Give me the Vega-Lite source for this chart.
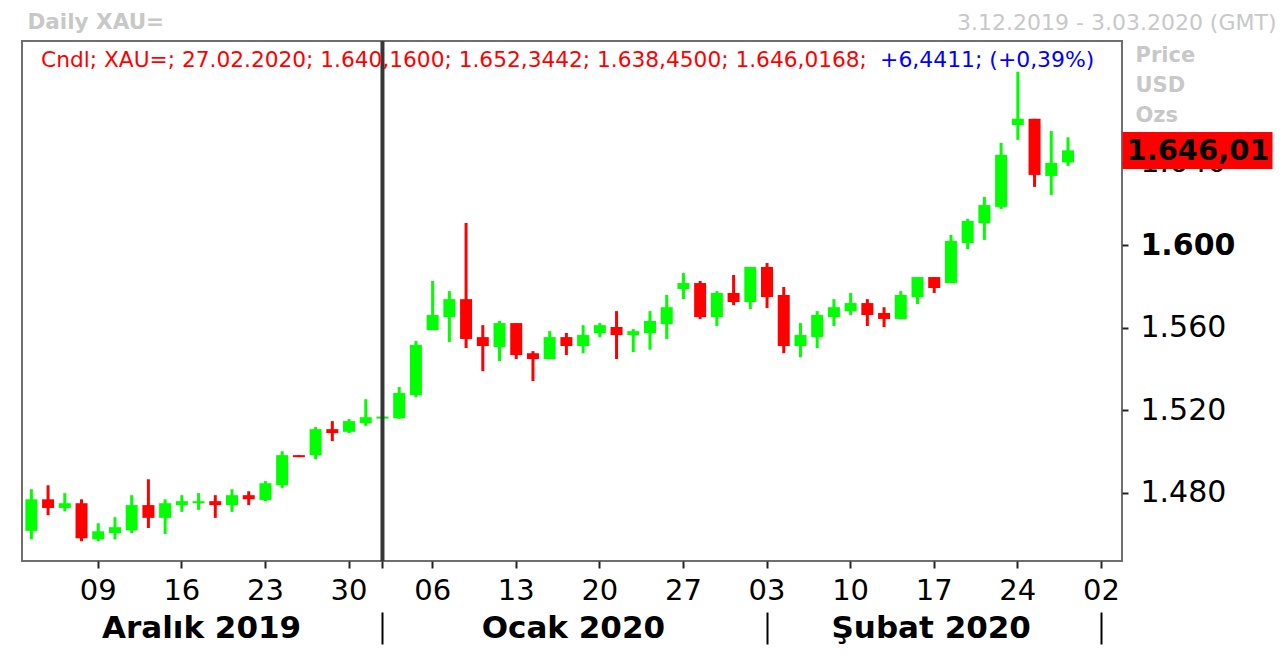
{
  "$schema": "https://vega.github.io/schema/vega-lite/v6.json",
  "width": 1100,
  "height": 520,
  "autosize": {"type": "none"},
  "padding": {"left": 22, "top": 41, "right": 160, "bottom": 96},
  "background": "#ffffff",
  "config": {
    "font": "DejaVu Sans",
    "view": {"stroke": "#6e6e6e", "strokeWidth": 2},
    "axis": {"labelFont": "DejaVu Sans", "titleFont": "DejaVu Sans", "grid": false, "domain": false, "labelLimit": 0, "titleLimit": 0}
  },
  "data": {"values": [
    {"d":"2019-12-03","o":1461.6,"h":1481.8,"l":1457.5,"c":1476.9},
    {"d":"2019-12-04","o":1476.9,"h":1483.7,"l":1469.2,"c":1472.7},
    {"d":"2019-12-05","o":1472.7,"h":1479.9,"l":1471.1,"c":1475.0},
    {"d":"2019-12-06","o":1475.0,"h":1476.9,"l":1456.6,"c":1458.0},
    {"d":"2019-12-09","o":1457.5,"h":1465.3,"l":1456.6,"c":1461.4},
    {"d":"2019-12-10","o":1460.5,"h":1468.2,"l":1457.5,"c":1463.4},
    {"d":"2019-12-11","o":1461.9,"h":1478.9,"l":1460.5,"c":1474.1},
    {"d":"2019-12-12","o":1474.1,"h":1486.6,"l":1463.0,"c":1467.9},
    {"d":"2019-12-13","o":1467.9,"h":1476.9,"l":1460.1,"c":1475.0},
    {"d":"2019-12-16","o":1474.1,"h":1478.9,"l":1470.8,"c":1476.0},
    {"d":"2019-12-17","o":1475.0,"h":1479.9,"l":1471.8,"c":1476.0},
    {"d":"2019-12-18","o":1476.0,"h":1478.9,"l":1467.9,"c":1474.1},
    {"d":"2019-12-19","o":1474.1,"h":1481.8,"l":1470.8,"c":1478.9},
    {"d":"2019-12-20","o":1478.9,"h":1480.8,"l":1474.1,"c":1476.9},
    {"d":"2019-12-23","o":1476.6,"h":1485.7,"l":1476.0,"c":1484.7},
    {"d":"2019-12-24","o":1483.7,"h":1500.2,"l":1482.4,"c":1498.3},
    {"d":"2019-12-25","o":1498.3,"h":1498.3,"l":1497.3,"c":1497.3},
    {"d":"2019-12-26","o":1498.3,"h":1511.9,"l":1496.3,"c":1510.9},
    {"d":"2019-12-27","o":1510.9,"h":1514.8,"l":1505.1,"c":1509.0},
    {"d":"2019-12-30","o":1509.6,"h":1515.8,"l":1509.0,"c":1514.8},
    {"d":"2019-12-31","o":1513.8,"h":1525.4,"l":1512.5,"c":1516.7},
    {"d":"2020-01-01","o":1516.0,"h":1517.0,"l":1516.0,"c":1517.0},
    {"d":"2020-01-02","o":1516.2,"h":1531.3,"l":1515.9,"c":1528.4},
    {"d":"2020-01-03","o":1527.4,"h":1553.6,"l":1526.4,"c":1551.7},
    {"d":"2020-01-06","o":1558.9,"h":1582.7,"l":1558.9,"c":1566.2},
    {"d":"2020-01-07","o":1565.2,"h":1577.8,"l":1553.1,"c":1573.9},
    {"d":"2020-01-08","o":1573.9,"h":1610.8,"l":1550.2,"c":1554.6},
    {"d":"2020-01-09","o":1555.5,"h":1561.3,"l":1539.0,"c":1551.2},
    {"d":"2020-01-10","o":1550.7,"h":1563.3,"l":1543.9,"c":1562.3},
    {"d":"2020-01-13","o":1562.3,"h":1562.3,"l":1544.9,"c":1546.8},
    {"d":"2020-01-14","o":1547.7,"h":1548.7,"l":1534.2,"c":1544.9},
    {"d":"2020-01-15","o":1544.9,"h":1558.4,"l":1544.9,"c":1555.5},
    {"d":"2020-01-16","o":1555.5,"h":1557.5,"l":1546.8,"c":1551.2},
    {"d":"2020-01-17","o":1551.2,"h":1561.3,"l":1547.7,"c":1556.5},
    {"d":"2020-01-20","o":1557.5,"h":1562.3,"l":1555.5,"c":1561.3},
    {"d":"2020-01-21","o":1560.4,"h":1568.1,"l":1544.9,"c":1556.5},
    {"d":"2020-01-22","o":1556.5,"h":1559.4,"l":1548.2,"c":1558.4},
    {"d":"2020-01-23","o":1557.5,"h":1568.1,"l":1549.4,"c":1563.3},
    {"d":"2020-01-24","o":1561.8,"h":1575.9,"l":1554.6,"c":1570.0},
    {"d":"2020-01-27","o":1578.8,"h":1586.6,"l":1573.9,"c":1581.7},
    {"d":"2020-01-28","o":1581.7,"h":1582.7,"l":1564.3,"c":1565.2},
    {"d":"2020-01-29","o":1565.2,"h":1577.8,"l":1560.9,"c":1576.9},
    {"d":"2020-01-30","o":1576.9,"h":1585.6,"l":1571.0,"c":1572.5},
    {"d":"2020-01-31","o":1572.5,"h":1589.5,"l":1569.1,"c":1589.5},
    {"d":"2020-02-03","o":1589.5,"h":1591.4,"l":1569.6,"c":1574.9},
    {"d":"2020-02-04","o":1575.9,"h":1579.8,"l":1547.7,"c":1551.2},
    {"d":"2020-02-05","o":1551.2,"h":1562.3,"l":1545.8,"c":1556.5},
    {"d":"2020-02-06","o":1555.5,"h":1568.1,"l":1550.2,"c":1566.2},
    {"d":"2020-02-07","o":1565.2,"h":1573.9,"l":1560.9,"c":1570.0},
    {"d":"2020-02-10","o":1568.1,"h":1576.9,"l":1566.2,"c":1572.0},
    {"d":"2020-02-11","o":1572.0,"h":1573.9,"l":1560.9,"c":1566.2},
    {"d":"2020-02-12","o":1567.2,"h":1570.0,"l":1560.4,"c":1564.3},
    {"d":"2020-02-13","o":1564.3,"h":1577.8,"l":1564.3,"c":1575.9},
    {"d":"2020-02-14","o":1574.9,"h":1584.6,"l":1571.5,"c":1584.6},
    {"d":"2020-02-17","o":1584.6,"h":1584.6,"l":1576.9,"c":1579.3},
    {"d":"2020-02-18","o":1581.7,"h":1605.0,"l":1581.7,"c":1602.1},
    {"d":"2020-02-19","o":1601.1,"h":1612.8,"l":1598.2,"c":1611.8},
    {"d":"2020-02-20","o":1610.8,"h":1623.4,"l":1602.6,"c":1619.5},
    {"d":"2020-02-21","o":1618.6,"h":1649.6,"l":1617.6,"c":1643.8},
    {"d":"2020-02-24","o":1658.3,"h":1684.1,"l":1651.1,"c":1661.3},
    {"d":"2020-02-25","o":1661.3,"h":1661.3,"l":1628.3,"c":1634.1},
    {"d":"2020-02-26","o":1633.6,"h":1655.4,"l":1624.4,"c":1639.9},
    {"d":"2020-02-27","o":1640.16,"h":1652.3442,"l":1638.45,"c":1646.0168}
  ]},
  "resolve": {"scale": {"x": "shared", "y": "shared"}, "axis": {"x": "independent", "y": "independent"}},
  "layer": [
    {
      "mark": {"type": "rule", "strokeWidth": 3},
      "encoding": {
        "x": {"field": "d", "type": "ordinal",
          "scale": {"type": "band", "range": [1, 1104.5], "paddingInner": 0, "paddingOuter": 0, "domain": ["2019-12-03","2019-12-04","2019-12-05","2019-12-06","2019-12-09","2019-12-10","2019-12-11","2019-12-12","2019-12-13","2019-12-16","2019-12-17","2019-12-18","2019-12-19","2019-12-20","2019-12-23","2019-12-24","2019-12-25","2019-12-26","2019-12-27","2019-12-30","2019-12-31","2020-01-01","2020-01-02","2020-01-03","2020-01-06","2020-01-07","2020-01-08","2020-01-09","2020-01-10","2020-01-13","2020-01-14","2020-01-15","2020-01-16","2020-01-17","2020-01-20","2020-01-21","2020-01-22","2020-01-23","2020-01-24","2020-01-27","2020-01-28","2020-01-29","2020-01-30","2020-01-31","2020-02-03","2020-02-04","2020-02-05","2020-02-06","2020-02-07","2020-02-10","2020-02-11","2020-02-12","2020-02-13","2020-02-14","2020-02-17","2020-02-18","2020-02-19","2020-02-20","2020-02-21","2020-02-24","2020-02-25","2020-02-26","2020-02-27","2020-02-28","2020-03-02","2020-03-03"]},
          "axis": {"orient": "bottom", "values": ["2019-12-09","2019-12-16","2019-12-23","2019-12-30","2020-01-01","2020-01-06","2020-01-13","2020-01-20","2020-01-27","2020-02-03","2020-02-10","2020-02-17","2020-02-24","2020-03-02"],
            "labelExpr": "datum.value == '2020-01-01' ? '' : substring(datum.value, 8, 10)",
            "labelAngle": 0, "labelFontSize": 29, "labelColor": "#000000", "labelBaseline": "middle", "labelPadding": 22,
            "tickSize": 7, "tickWidth": 2, "tickColor": "#222222", "domain": false, "grid": false, "title": null,
            "labelOverlap": false, "labelFlush": false, "labelBound": false}
        },
        "y": {"field": "l", "type": "quantitative",
          "scale": {"domain": [1447, 1699], "zero": false, "nice": false},
          "axis": {"orient": "right", "values": [1480, 1520, 1560, 1600, 1640],
            "labelExpr": "replace(format(datum.value, ','), ',', '.')",
            "labelFontSize": 30, "labelColor": "#000000",
            "labelFontWeight": {"condition": {"test": "datum.value == 1600", "value": "bold"}, "value": "normal"},
            "labelAlign": "left", "labelBaseline": "middle", "labelPadding": 12,
            "tickSize": 6, "tickWidth": 2, "tickColor": "#222222", "domain": false, "grid": false,
            "labelOverlap": false, "labelFlush": false, "labelBound": false,
            "title": ["Price", "USD", "Ozs"], "titleAngle": 0, "titleAlign": "left", "titleBaseline": "top",
            "titleX": 13, "titleY": 3, "titleFontSize": 21, "titleFontWeight": "bold", "titleColor": "#c8c8c8", "titleLineHeight": 30}
        },
        "y2": {"field": "h"},
        "color": {"condition": {"test": "datum.c >= datum.o", "value": "#00ff00"}, "value": "#ff0000"}
      }
    },
    {
      "mark": {"type": "bar", "size": 12},
      "encoding": {
        "x": {"field": "d", "type": "ordinal",
          "scale": {"type": "band", "range": [1, 1104.5], "paddingInner": 0, "paddingOuter": 0, "domain": ["2019-12-03","2019-12-04","2019-12-05","2019-12-06","2019-12-09","2019-12-10","2019-12-11","2019-12-12","2019-12-13","2019-12-16","2019-12-17","2019-12-18","2019-12-19","2019-12-20","2019-12-23","2019-12-24","2019-12-25","2019-12-26","2019-12-27","2019-12-30","2019-12-31","2020-01-01","2020-01-02","2020-01-03","2020-01-06","2020-01-07","2020-01-08","2020-01-09","2020-01-10","2020-01-13","2020-01-14","2020-01-15","2020-01-16","2020-01-17","2020-01-20","2020-01-21","2020-01-22","2020-01-23","2020-01-24","2020-01-27","2020-01-28","2020-01-29","2020-01-30","2020-01-31","2020-02-03","2020-02-04","2020-02-05","2020-02-06","2020-02-07","2020-02-10","2020-02-11","2020-02-12","2020-02-13","2020-02-14","2020-02-17","2020-02-18","2020-02-19","2020-02-20","2020-02-21","2020-02-24","2020-02-25","2020-02-26","2020-02-27","2020-02-28","2020-03-02","2020-03-03"]},
          "axis": {"orient": "bottom", "values": ["2019-12-17", "2020-01-16", "2020-02-17"],
            "labelExpr": "datum.value == '2019-12-17' ? 'Aralık 2019' : (datum.value == '2020-01-16' ? 'Ocak 2020' : 'Şubat 2020')",
            "ticks": false, "tickSize": 0, "domain": false, "grid": false, "title": null,
            "labelAngle": 0, "labelFontSize": 31, "labelFontWeight": "bold", "labelColor": "#000000",
            "labelBaseline": "middle", "labelPadding": 67, "labelLimit": 0,
            "labelOffset": {"condition": [{"test": "datum.value == '2020-01-16'", "value": 7}, {"test": "datum.value == '2020-02-17'", "value": -3}], "value": 3},
            "labelOverlap": false, "labelFlush": false, "labelBound": false}
        },
        "y": {"field": "o", "type": "quantitative",
          "scale": {"domain": [1447, 1699], "zero": false, "nice": false},
          "axis": {"orient": "right", "values": [1646.0168], "labelExpr": "'1.646,01'",
            "labelFontSize": 29, "labelFontWeight": "bold", "labelColor": "#000000",
            "labelAlign": "left", "labelBaseline": "middle",
            "tickSize": 150, "tickWidth": 37, "tickColor": "#ff0000", "labelPadding": -146,
            "domain": false, "grid": false, "title": null,
            "labelOverlap": false, "labelFlush": false, "labelBound": false}
        },
        "y2": {"field": "c"},
        "color": {"condition": {"test": "datum.c >= datum.o", "value": "#00ff00"}, "value": "#ff0000"}
      }
    },
    {
      "data": {"values": [{}]},
      "mark": {"type": "rule", "strokeWidth": 4, "color": "#363636"},
      "encoding": {
        "x": {"datum": "2020-01-01", "type": "ordinal",
          "scale": {"type": "band", "range": [1, 1104.5], "paddingInner": 0, "paddingOuter": 0, "domain": ["2019-12-03","2019-12-04","2019-12-05","2019-12-06","2019-12-09","2019-12-10","2019-12-11","2019-12-12","2019-12-13","2019-12-16","2019-12-17","2019-12-18","2019-12-19","2019-12-20","2019-12-23","2019-12-24","2019-12-25","2019-12-26","2019-12-27","2019-12-30","2019-12-31","2020-01-01","2020-01-02","2020-01-03","2020-01-06","2020-01-07","2020-01-08","2020-01-09","2020-01-10","2020-01-13","2020-01-14","2020-01-15","2020-01-16","2020-01-17","2020-01-20","2020-01-21","2020-01-22","2020-01-23","2020-01-24","2020-01-27","2020-01-28","2020-01-29","2020-01-30","2020-01-31","2020-02-03","2020-02-04","2020-02-05","2020-02-06","2020-02-07","2020-02-10","2020-02-11","2020-02-12","2020-02-13","2020-02-14","2020-02-17","2020-02-18","2020-02-19","2020-02-20","2020-02-21","2020-02-24","2020-02-25","2020-02-26","2020-02-27","2020-02-28","2020-03-02","2020-03-03"]},
          "axis": {"orient": "bottom", "values": ["2020-01-01", "2020-02-03", "2020-03-02"],
            "labels": false, "domain": false, "grid": false, "title": null,
            "tickSize": 32, "tickWidth": 2, "tickColor": "#000000", "offset": 51}
        }
      }
    },
    {
      "data": {"values": [{}]},
      "mark": {"type": "text", "align": "left", "baseline": "middle", "fontSize": 21.7, "color": "#ff0000", "dx": -7, "font": "DejaVu Sans"},
      "encoding": {
        "x": {"datum": "2019-12-04", "type": "ordinal",
          "scale": {"type": "band", "range": [1, 1104.5], "paddingInner": 0, "paddingOuter": 0, "domain": ["2019-12-03","2019-12-04","2019-12-05","2019-12-06","2019-12-09","2019-12-10","2019-12-11","2019-12-12","2019-12-13","2019-12-16","2019-12-17","2019-12-18","2019-12-19","2019-12-20","2019-12-23","2019-12-24","2019-12-25","2019-12-26","2019-12-27","2019-12-30","2019-12-31","2020-01-01","2020-01-02","2020-01-03","2020-01-06","2020-01-07","2020-01-08","2020-01-09","2020-01-10","2020-01-13","2020-01-14","2020-01-15","2020-01-16","2020-01-17","2020-01-20","2020-01-21","2020-01-22","2020-01-23","2020-01-24","2020-01-27","2020-01-28","2020-01-29","2020-01-30","2020-01-31","2020-02-03","2020-02-04","2020-02-05","2020-02-06","2020-02-07","2020-02-10","2020-02-11","2020-02-12","2020-02-13","2020-02-14","2020-02-17","2020-02-18","2020-02-19","2020-02-20","2020-02-21","2020-02-24","2020-02-25","2020-02-26","2020-02-27","2020-02-28","2020-03-02","2020-03-03"]},
          "axis": {"orient": "top", "labels": false, "ticks": false, "domain": false, "grid": false,
            "title": "Daily XAU=", "titleX": 5, "titleY": -19, "titleAlign": "left", "titleBaseline": "middle", "titleAngle": 0,
            "titleFontSize": 21.5, "titleFontWeight": "bold", "titleColor": "#c8c8c8"}
        },
        "y": {"datum": 1690, "type": "quantitative", "scale": {"domain": [1447, 1699], "zero": false, "nice": false}, "axis": null},
        "text": {"value": "Cndl; XAU=; 27.02.2020; 1.640,1600; 1.652,3442; 1.638,4500; 1.646,0168;"}
      }
    },
    {
      "data": {"values": [{}]},
      "mark": {"type": "text", "align": "left", "baseline": "middle", "fontSize": 21.9, "color": "#0000ff", "dx": -4, "font": "DejaVu Sans"},
      "encoding": {
        "x": {"datum": "2020-02-12", "type": "ordinal",
          "scale": {"type": "band", "range": [1, 1104.5], "paddingInner": 0, "paddingOuter": 0, "domain": ["2019-12-03","2019-12-04","2019-12-05","2019-12-06","2019-12-09","2019-12-10","2019-12-11","2019-12-12","2019-12-13","2019-12-16","2019-12-17","2019-12-18","2019-12-19","2019-12-20","2019-12-23","2019-12-24","2019-12-25","2019-12-26","2019-12-27","2019-12-30","2019-12-31","2020-01-01","2020-01-02","2020-01-03","2020-01-06","2020-01-07","2020-01-08","2020-01-09","2020-01-10","2020-01-13","2020-01-14","2020-01-15","2020-01-16","2020-01-17","2020-01-20","2020-01-21","2020-01-22","2020-01-23","2020-01-24","2020-01-27","2020-01-28","2020-01-29","2020-01-30","2020-01-31","2020-02-03","2020-02-04","2020-02-05","2020-02-06","2020-02-07","2020-02-10","2020-02-11","2020-02-12","2020-02-13","2020-02-14","2020-02-17","2020-02-18","2020-02-19","2020-02-20","2020-02-21","2020-02-24","2020-02-25","2020-02-26","2020-02-27","2020-02-28","2020-03-02","2020-03-03"]},
          "axis": {"orient": "top", "labels": false, "ticks": false, "domain": false, "grid": false,
            "title": "3.12.2019 - 3.03.2020 (GMT)", "titleX": 1254, "titleY": -19, "titleAlign": "right", "titleBaseline": "middle", "titleAngle": 0,
            "titleFontSize": 22, "titleFontWeight": "normal", "titleColor": "#c8c8c8"}
        },
        "y": {"datum": 1690, "type": "quantitative", "scale": {"domain": [1447, 1699], "zero": false, "nice": false}, "axis": null},
        "text": {"value": "+6,4411; (+0,39%)"}
      }
    }
  ]
}
